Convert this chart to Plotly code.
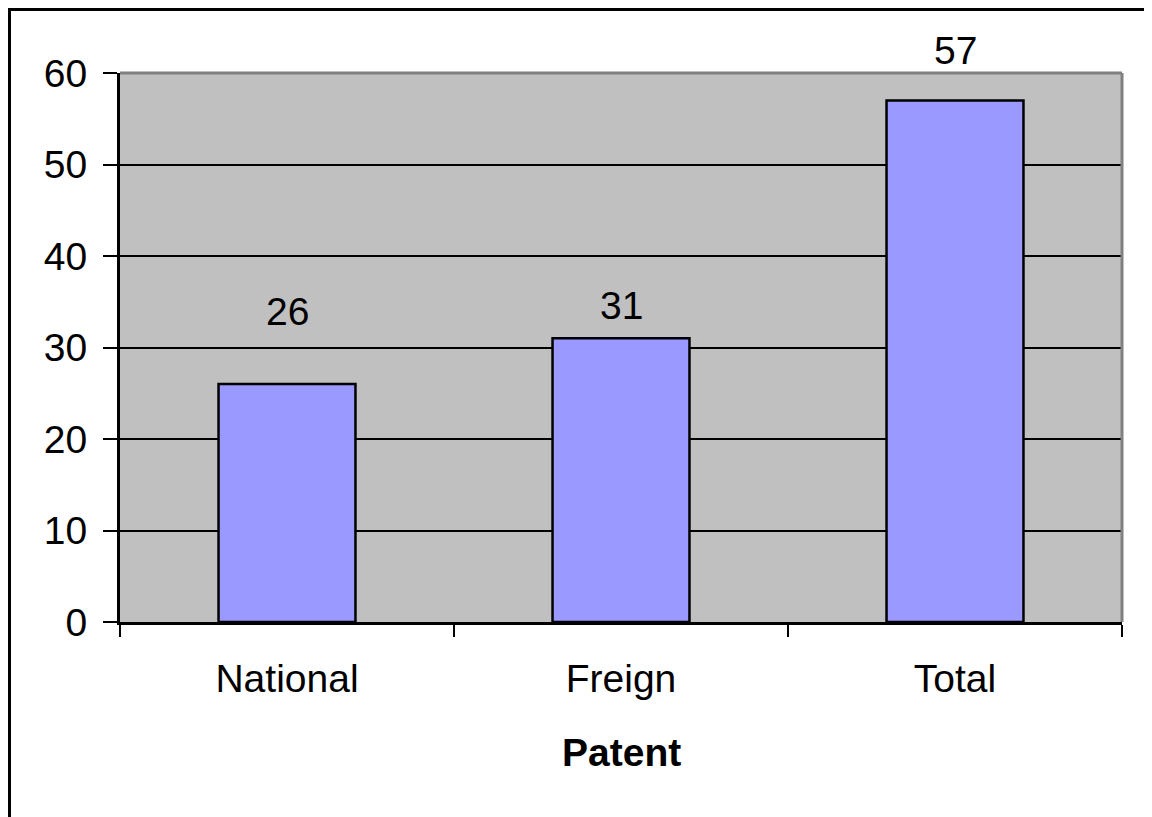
import plotly.graph_objects as go

categories = ["National", "Freign", "Total"]
values = [26, 31, 57]
y_ticks = [0, 10, 20, 30, 40, 50, 60]
x_title = "Patent"

# label offsets above bar tops (pixels), as drawn in the reference
label_shift = [73, 33, 50]

OFF = 8  # page body margin
W, H = 1152 - OFF, 817 - OFF
L, R, T, B = 120 - OFF, 30, 73 - OFF, 195
pw, ph = W - L - R, H - T - B

def px_x(p):
    return (p - OFF - L) / pw

def px_y(p):
    return (H - B - (p - OFF)) / ph

FONT = "Liberation Sans, Arial, sans-serif"
FS = 39

fig = go.Figure()
fig.add_trace(go.Bar(
    x=categories, y=values,
    marker=dict(color="#9999FF", line=dict(color="black", width=2.5)),
    width=0.41,
    hoverinfo="skip",
))

for c, v, s in zip(categories, values, label_shift):
    fig.add_annotation(x=c, y=v, text=str(v), showarrow=False, yshift=s,
                       font=dict(family=FONT, size=FS, color="black"))

fig.add_annotation(xref="paper", yref="paper", x=0.5, y=px_y(752), yanchor="middle",
                   text="<b>%s</b>" % x_title,
                   showarrow=False, font=dict(family=FONT, size=FS, color="black"))

# gray top/right plot border
fig.add_shape(type="line", xref="paper", yref="paper", x0=0, x1=1, y0=1, y1=1,
              line=dict(color="#808080", width=3), layer="above")
fig.add_shape(type="line", xref="paper", yref="paper", x0=1, x1=1, y0=0, y1=1,
              line=dict(color="#808080", width=3), layer="above")
# outer chart border (bottom edge is outside the picture)
fig.add_shape(type="rect", xref="paper", yref="paper",
              x0=px_x(9.5), x1=px_x(1149.5), y0=px_y(9.5), y1=px_y(840),
              line=dict(color="black", width=3), fillcolor="rgba(0,0,0,0)", layer="above")

fig.update_layout(
    width=W, height=H,
    margin=dict(l=L, r=R, t=T, b=B, pad=0),
    paper_bgcolor="white", plot_bgcolor="#C0C0C0",
    showlegend=False,
    font=dict(family=FONT, size=FS, color="black"),
)
fig.update_xaxes(
    type="category", tickson="boundaries",
    ticks="outside", ticklen=12, tickwidth=2, tickcolor="black",
    showline=True, linecolor="black", linewidth=3,
    showgrid=False, tickfont=dict(family=FONT, size=FS),
    ticklabelstandoff=20,
)
fig.update_yaxes(
    range=[0, 60], tickvals=y_ticks,
    ticks="outside", ticklen=14, tickwidth=2, tickcolor="black",
    showline=True, linecolor="black", linewidth=3,
    showgrid=True, gridcolor="black", gridwidth=2,
    zeroline=False, tickfont=dict(family=FONT, size=FS),
    ticklabelstandoff=8,
)

fig.write_html("out.html", config={"displayModeBar": False})
